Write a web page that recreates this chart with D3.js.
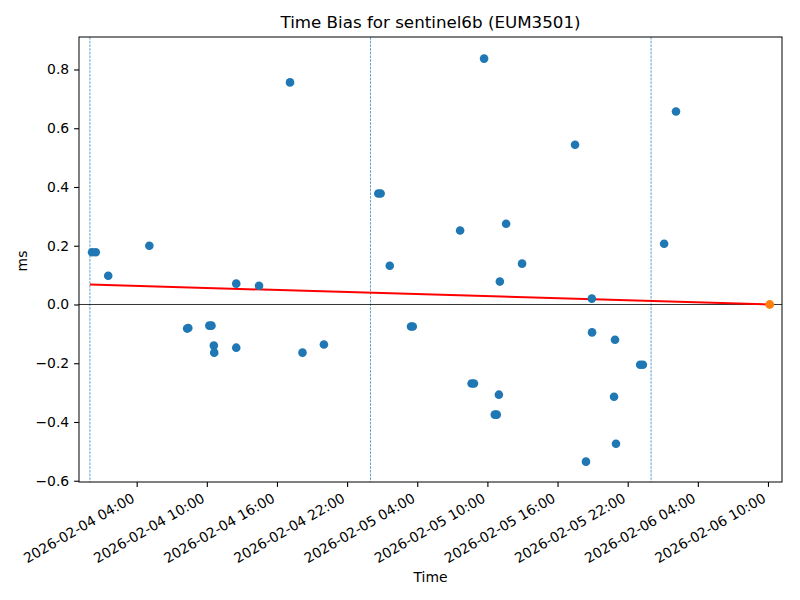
<!DOCTYPE html>
<html><head><meta charset="utf-8">
<script src="https://cdn.jsdelivr.net/npm/d3@7"></script>
<style>body{margin:0;background:#fff} text{font-family:"DejaVu Sans",sans-serif;fill:#000}</style>
</head><body><svg id="c" width="800" height="600"></svg>
<script>
const pointTimes = [
"2026-02-04T00:11","2026-02-04T00:30","2026-02-04T01:34","2026-02-04T05:05",
"2026-02-04T08:19","2026-02-04T08:25","2026-02-04T10:13","2026-02-04T10:24",
"2026-02-04T10:36","2026-02-04T10:38","2026-02-04T12:31","2026-02-04T12:31",
"2026-02-04T14:28","2026-02-04T17:07","2026-02-04T18:11","2026-02-04T20:01",
"2026-02-05T00:40","2026-02-05T00:52","2026-02-05T01:39","2026-02-05T03:28",
"2026-02-05T03:37","2026-02-05T07:40","2026-02-05T08:39","2026-02-05T08:51",
"2026-02-05T09:43","2026-02-05T10:38","2026-02-05T10:48","2026-02-05T10:59",
"2026-02-05T11:04","2026-02-05T11:36","2026-02-05T12:58","2026-02-05T17:30",
"2026-02-05T18:26","2026-02-05T18:56","2026-02-05T18:57","2026-02-05T20:50",
"2026-02-05T20:55","2026-02-05T21:00","2026-02-05T23:04","2026-02-05T23:18",
"2026-02-06T01:07","2026-02-06T02:08"];
const pointValues = [
0.178,0.178,0.098,0.200,
-0.082,-0.080,-0.072,-0.072,
-0.140,-0.164,0.071,-0.147,
0.064,0.756,-0.164,-0.136,
0.378,0.378,0.132,-0.075,
-0.075,0.252,-0.269,-0.269,
0.837,-0.375,-0.375,-0.307,
0.078,0.275,0.139,0.544,
-0.535,0.020,-0.095,-0.314,
-0.120,-0.474,-0.205,-0.205,
0.207,0.657];
const predictionTime = "2026-02-06T10:09";
const predictionValue = 0.0;
const fitTimes = ["2026-02-04T00:00","2026-02-06T10:09"];
const fitValues = [0.068, 0.0];
const dayLines = ["2026-02-04T00:00","2026-02-05T00:00","2026-02-06T00:00"];
const xTickValues = ["2026-02-04T04:00","2026-02-04T10:00","2026-02-04T16:00","2026-02-04T22:00",
"2026-02-05T04:00","2026-02-05T10:00","2026-02-05T16:00","2026-02-05T22:00",
"2026-02-06T04:00","2026-02-06T10:00"];
const yTickValues = [-0.6,-0.4,-0.2,0.0,0.2,0.4,0.6,0.8];
const xDomain = ["2026-02-03T23:04","2026-02-06T11:12"];
const yDomain = [-0.6043, 0.9106];
const titleText = "Time Bias for sentinel6b (EUM3501)";

const parse = d3.utcParse("%Y-%m-%dT%H:%M");
const L=79, R=782, T=37, B=482;
const svg = d3.select("#c");
const x = d3.scaleUtc().domain(xDomain.map(parse)).range([L,R]);
const y = d3.scaleLinear().domain(yDomain).range([B,T]);

const plot = svg.append("g");
plot.selectAll("line.day").data(dayLines).join("line")
  .attr("x1",d=>x(parse(d))).attr("x2",d=>x(parse(d)))
  .attr("y1",T).attr("y2",B)
  .attr("stroke","#1f77b4").attr("stroke-width",0.7).attr("stroke-dasharray","2.6,1.1");
plot.append("line").attr("x1",L).attr("x2",R).attr("y1",y(0)).attr("y2",y(0))
  .attr("stroke","#000").attr("stroke-width",0.8);
plot.append("path").datum(fitTimes.map((t,i)=>[parse(t),fitValues[i]]))
  .attr("d", d3.line().x(d=>x(d[0])).y(d=>y(d[1])))
  .attr("stroke","#ff0000").attr("stroke-width",2).attr("fill","none");
plot.selectAll("circle.p").data(pointTimes.map((t,i)=>[parse(t),pointValues[i]])).join("circle")
  .attr("cx",d=>x(d[0])).attr("cy",d=>y(d[1])).attr("r",4.3).attr("fill","#1f77b4");
plot.append("circle").attr("cx",x(parse(predictionTime))).attr("cy",y(predictionValue))
  .attr("r",4.4).attr("fill","#ff7f0e");

svg.append("rect").attr("x",L).attr("y",T).attr("width",R-L).attr("height",B-T)
  .attr("fill","none").attr("stroke","#000").attr("stroke-width",1);

const xa = svg.append("g").attr("transform",`translate(0,${B})`)
  .call(d3.axisBottom(x).tickValues(xTickValues.map(parse)).tickSize(4.9).tickPadding(0)
    .tickFormat(d3.utcFormat("%Y-%m-%d %H:%M")));
xa.select(".domain").remove();
xa.selectAll("line").attr("stroke","#000").attr("stroke-width",1.1);
xa.selectAll("text").attr("font-size","13.9px").attr("text-anchor","end").attr("dy",null)
  .attr("y",null)
  .attr("transform","translate(-1.6,19) rotate(-30)");

const ya = svg.append("g").attr("transform",`translate(${L},0)`)
  .call(d3.axisLeft(y).tickValues(yTickValues).tickSize(4.9).tickPadding(4.9).tickFormat(d3.format(".1f")));
ya.select(".domain").remove();
ya.selectAll("line").attr("stroke","#000").attr("stroke-width",1.1);
ya.selectAll("text").attr("font-size","13.9px");

svg.append("text").attr("x",(L+R)/2).attr("y",28).attr("text-anchor","middle")
  .attr("font-size","16.7px").text(titleText);
svg.append("text").attr("x",(L+R)/2).attr("y",582).attr("text-anchor","middle")
  .attr("font-size","13.9px").text("Time");
svg.append("text").attr("transform","translate(27,261) rotate(-90)").attr("text-anchor","middle")
  .attr("font-size","13.9px").text("ms");
</script></body></html>
